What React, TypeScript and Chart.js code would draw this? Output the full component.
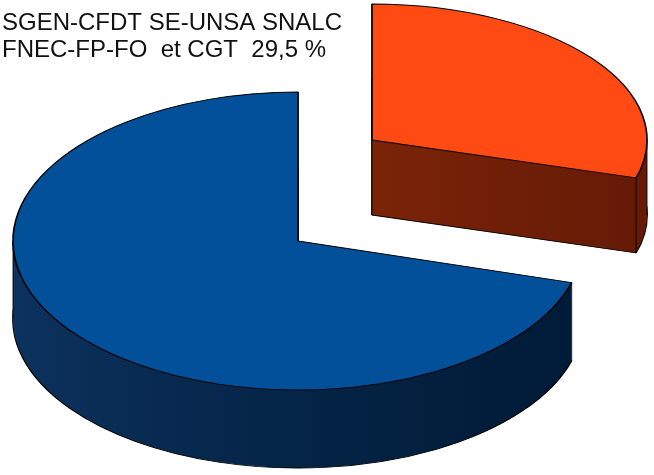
import React, { useEffect, useRef } from 'react';
import { Chart, registerables } from 'chart.js';

Chart.register(...registerables);

// ---- data ----
const categories: string[][] = [
  ['SGEN-CFDT SE-UNSA SNALC', 'FNEC-FP-FO  et CGT'],
  ['Autres'],
];
const shares: number[] = [29.5, 70.5];
const showLabel: boolean[] = [true, false];

// ---- styles ----
const topColors = ['#ff4b13', '#02509a'];
const sideColors = [
  ['#902d0d', '#651a05'],
  ['#0d3461', '#001b37'],
];
const ellipses = [
  { cx: 372, cy: 140, rx: 275, ry: 136, depth: 75 },
  { cx: 298, cy: 241, rx: 285, ry: 149, depth: 78 },
];

const pie3d = {
  id: 'pie3d',
  beforeDatasetsDraw(chart: any) {
    const ctx: CanvasRenderingContext2D = chart.ctx;
    const meta = chart.getDatasetMeta(0);
    const order = [0, 1];
    for (const i of order) {
      const arc = meta.data[i];
      const e = ellipses[i];
      const r = arc.outerRadius;
      const apply = (dy: number) => {
        ctx.translate(e.cx, e.cy + dy);
        ctx.scale(e.rx / r, e.ry / r);
        ctx.translate(-arc.x, -arc.y);
      };
      // side layers
      for (let d = e.depth; d >= 1; d--) {
        ctx.save();
        apply(d);
        const g = ctx.createLinearGradient(arc.x - r, arc.y - r * 0.3, arc.x + r, arc.y + r * 0.3);
        g.addColorStop(0, sideColors[i][0]);
        g.addColorStop(1, sideColors[i][1]);
        const fake = Object.create(arc);
        fake.options = {
          ...arc.options,
          backgroundColor: g,
          borderWidth: d === e.depth ? 1.4 : 0,
          borderColor: '#000',
        };
        fake.draw(ctx);
        ctx.restore();
      }
      // vertical edges
      const norm = (a: number) => {
        let x = a;
        while (x < arc.startAngle) x += Math.PI * 2;
        return x;
      };
      const pts: number[][] = [];
      pts.push([e.cx, e.cy]);
      for (const a of [arc.startAngle, arc.endAngle]) {
        pts.push([e.cx + Math.cos(a) * e.rx, e.cy + Math.sin(a) * e.ry]);
      }
      for (const a of [0, Math.PI]) {
        const na = norm(a);
        if (na <= arc.endAngle) pts.push([e.cx + Math.cos(na) * e.rx, e.cy]);
      }
      ctx.save();
      ctx.strokeStyle = 'rgba(0,0,0,0.85)';
      ctx.lineWidth = 1;
      for (const p of pts) {
        ctx.beginPath();
        ctx.moveTo(p[0], p[1]);
        ctx.lineTo(p[0], p[1] + e.depth);
        ctx.stroke();
      }
      ctx.restore();
      // top face
      ctx.save();
      apply(0);
      arc.draw(ctx);
      ctx.restore();
    }
    return false;
  },
  afterDraw(chart: any) {
    const ctx: CanvasRenderingContext2D = chart.ctx;
    ctx.save();
    ctx.font = '24px "Liberation Sans", Arial, sans-serif';
    ctx.fillStyle = '#111';
    ctx.textBaseline = 'alphabetic';
    ctx.textAlign = 'left';
    for (let i = 0; i < categories.length; i++) {
      if (!showLabel[i]) continue;
      const lines = categories[i].slice();
      const val = shares[i].toString().replace('.', ',') + ' %';
      lines[lines.length - 1] = lines[lines.length - 1] + '  ' + val;
      lines.forEach((t, k) => ctx.fillText(t, 2, 30 + k * 26.5));
    }
    ctx.restore();
  },
};

export default function App() {
  const ref = useRef<HTMLCanvasElement | null>(null);
  useEffect(() => {
    document.body.style.margin = '0';
    const canvas = ref.current!;
    const chart = new Chart(canvas, {
      type: 'pie',
      data: {
        labels: categories,
        datasets: [
          {
            data: shares,
            backgroundColor: topColors,
            borderColor: '#000',
            borderWidth: 1.4,
          },
        ],
      },
      options: {
        responsive: false,
        animation: false,
        events: [],
        plugins: {
          legend: { display: false },
          tooltip: { enabled: false },
          title: { display: false },
        },
      },
      plugins: [pie3d],
    });
    return () => chart.destroy();
  }, []);
  return (
    <div style={{ width: 654, height: 475, background: '#fff' }}>
      <canvas ref={ref} width={654} height={475} style={{ display: 'block' }} />
    </div>
  );
}
